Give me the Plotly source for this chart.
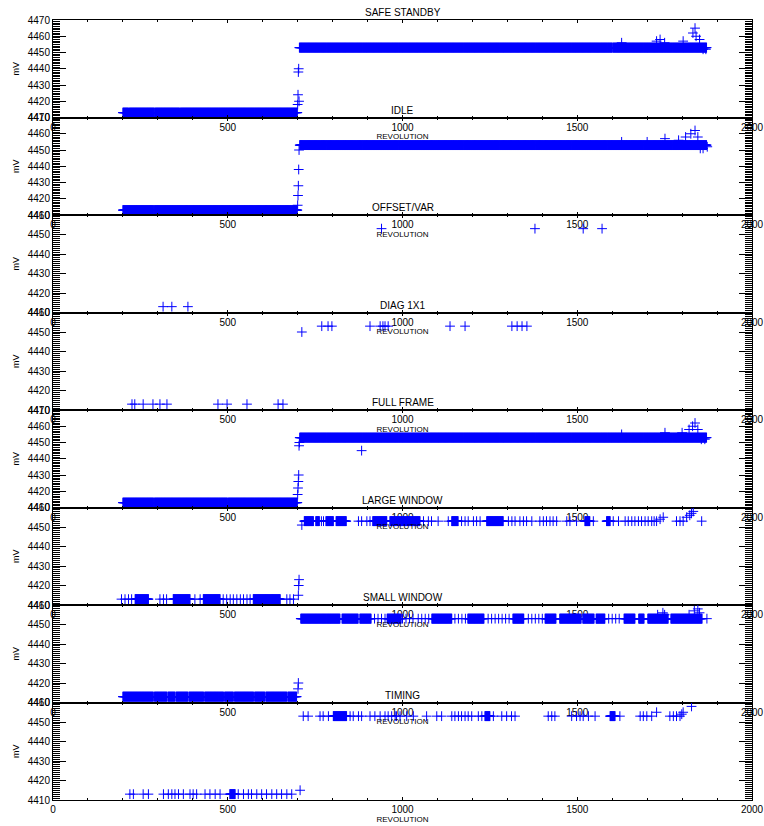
import plotly.graph_objects as go

# ---------------- data ----------------
titles = ["SAFE STANDBY", "IDLE", "OFFSET/VAR", "DIAG 1X1",
          "FULL FRAME", "LARGE WINDOW", "SMALL WINDOW", "TIMING"]
y_top = [4470, 4470, 4460, 4460, 4470, 4460, 4460, 4460]
y_bottom = 4410
x_ticks = [0, 500, 1000, 1500, 2000]

# runs: [first revolution, last revolution, mV] -- one sample per revolution
safe_runs = [[200, 216, 4413], [218, 290, 4413], [292, 362, 4413], [364, 699, 4413],
             [706, 1600, 4453], [1602, 1870, 4453]]
safe_x = [700, 701, 702, 703, 704, 705, 1627, 1727, 1737, 1750, 1803, 1831, 1837, 1840, 1850, 1860, 1868]
safe_y = [4418, 4424, 4438, 4440, 4420, 4453, 4456, 4457, 4458, 4456, 4457, 4462, 4465, 4460, 4458, 4452, 4452]

idle_runs = [[200, 288, 4413], [290, 699, 4413], [706, 1870, 4453]]
idle_x = [700, 701, 702, 703, 704, 1627, 1700, 1751, 1790, 1810, 1825, 1837, 1845, 1852, 1860, 1872]
idle_y = [4416, 4422, 4428, 4438, 4450, 4455, 4455, 4457, 4456, 4458, 4460, 4462, 4458, 4451, 4451, 4452]

offset_runs = []
offset_x = [315, 340, 386, 940, 1379, 1517, 1571]
offset_y = [4413, 4413, 4413, 4453, 4453, 4453, 4453]

diag_runs = []
diag_x = [226, 234, 258, 286, 306, 326, 472, 498, 555, 644, 658,
          712, 769, 787, 798, 907, 936, 944, 950, 959, 1136, 1179, 1313, 1328, 1342, 1356]
diag_y = [4413] * 11 + [4450] + [4453] * 14

full_runs = [[200, 288, 4413], [290, 499, 4413], [501, 699, 4413], [706, 1870, 4453]]
full_x = [700, 701, 702, 703, 704, 705, 883, 1627, 1751, 1800, 1820, 1830, 1837, 1845, 1855, 1865]
full_y = [4418, 4422, 4426, 4430, 4448, 4450, 4445, 4455, 4456, 4456, 4458, 4460, 4462, 4458, 4452, 4452]

large_runs = [[235, 273, 4413], [344, 392, 4413], [430, 478, 4413], [573, 650, 4413],
              [719, 745, 4453], [752, 762, 4453], [781, 802, 4453], [810, 839, 4453],
              [915, 955, 4453], [964, 1050, 4453], [1141, 1159, 4453], [1241, 1288, 4453],
              [1522, 1536, 4453], [1584, 1594, 4453]]
large_x = [196, 206, 216, 225, 306, 316, 325, 406, 421, 487, 497, 507, 516, 526, 536, 545, 555, 564,
           669, 678, 688, 702, 703, 704,
           712, 768, 774, 874, 883, 898, 907, 969, 1060, 1074, 1083, 1102, 1131, 1169, 1179, 1188,
           1203, 1212, 1222, 1303, 1313, 1322, 1336, 1346, 1355, 1370, 1393, 1403, 1412, 1422,
           1431, 1441, 1470, 1479, 1498, 1546, 1603, 1618, 1637, 1646, 1656, 1665, 1675, 1684,
           1694, 1703, 1713, 1720, 1727, 1784, 1794,
           1737, 1746, 1803, 1813, 1822, 1827, 1832, 1856]
large_y = [4413] * 21 + [4415, 4420, 4423] + [4451] + [4453] * 50 + \
          [4454, 4455, 4453, 4455, 4456, 4457, 4458, 4453]

small_runs = [[200, 287, 4413], [290, 326, 4413], [329, 349, 4413], [352, 386, 4413],
              [389, 431, 4413], [434, 488, 4413], [491, 516, 4413], [519, 574, 4413],
              [577, 606, 4413], [609, 669, 4413], [672, 697, 4413],
              [709, 821, 4453], [827, 873, 4453], [878, 910, 4453], [956, 996, 4453],
              [1084, 1141, 4453], [1187, 1233, 4453], [1316, 1347, 4453], [1408, 1439, 4453],
              [1450, 1511, 4453], [1516, 1548, 4453], [1554, 1579, 4453], [1634, 1665, 4453],
              [1676, 1691, 4453], [1702, 1760, 4453], [1768, 1857, 4453]]
small_x = [701, 702, 920, 930, 940, 950, 1000, 1010, 1020, 1030, 1045, 1055, 1065, 1075,
           1150, 1160, 1170, 1180, 1245, 1255, 1265, 1275, 1285, 1295, 1305,
           1360, 1370, 1380, 1390, 1400, 1590, 1600, 1610, 1620,
           1730, 1745, 1750, 1820, 1835, 1845, 1850, 1871]
small_y = [4417, 4420] + [4453] * 32 + [4455, 4456, 4455, 4455, 4457, 4458, 4456, 4453]

timing_runs = [[506, 521, 4413], [802, 840, 4453], [1236, 1250, 4453], [1594, 1608, 4453]]
timing_x = [220, 230, 258, 273, 316, 330, 340, 349, 359, 373, 392, 401, 411, 435, 449, 464, 478,
            530, 545, 559, 568, 583, 597, 611, 626, 640, 654, 669, 683, 707,
            716, 730, 764, 773, 788, 850, 859, 874, 883, 907, 921, 936, 950, 959, 969, 979, 983,
            993, 1012, 1031, 1069, 1098, 1112, 1141, 1150, 1160, 1169, 1179, 1188, 1198, 1217,
            1227, 1260, 1284, 1298, 1312, 1322, 1417, 1427, 1436, 1484, 1498, 1508, 1517, 1532,
            1551, 1622, 1680, 1689, 1699, 1713, 1727, 1765, 1775, 1784, 1794, 1799, 1803, 1827]
timing_y = [4413] * 29 + [4415] + [4453] * 51 + [4455, 4453, 4453, 4453, 4453, 4454, 4455, 4458]

panels = [(safe_runs, safe_x, safe_y), (idle_runs, idle_x, idle_y),
          (offset_runs, offset_x, offset_y), (diag_runs, diag_x, diag_y),
          (full_runs, full_x, full_y), (large_runs, large_x, large_y),
          (small_runs, small_x, small_y), (timing_runs, timing_x, timing_y)]


def expand(runs, px, py):
    xs, ys = [], []
    for a, b, v in runs:
        for r in range(a, b + 1):
            xs.append(r)
            ys.append(v)
    return xs + list(px), ys + list(py)


# ---------------- figure ----------------
BLUE = "#0000ff"
FONT = "Liberation Sans"
n = len(titles)
fig = go.Figure()
layout = {}
annotations = []

for i in range(n):
    sfx = "" if i == 0 else str(i + 1)
    xs, ys = expand(*panels[i])
    fig.add_trace(go.Scatter(
        x=xs, y=ys, mode="markers", xaxis="x" + sfx, yaxis="y" + sfx,
        marker=dict(symbol="cross-thin", size=7, color=BLUE,
                    line=dict(width=1, color=BLUE)),
        showlegend=False, hoverinfo="skip"))
    top = 1 - i / n
    bot = 1 - (i + 1) / n
    layout["xaxis" + sfx] = dict(
        domain=[0, 1], anchor="y" + sfx, range=[0, 2000],
        tickmode="array", tickvals=x_ticks, ticktext=[str(v) for v in x_ticks],
        ticks="inside", ticklen=3, tickcolor="black", tickwidth=1,
        minor=dict(tickmode="linear", tick0=0, dtick=100, ticks="inside", ticklen=2, tickcolor="black"),
        showline=True, linecolor="black", linewidth=1, mirror="ticks",
        showgrid=False, zeroline=False,
        tickfont=dict(family=FONT, size=10, color="black"),
        title=dict(text="REVOLUTION", font=dict(family=FONT, size=8, color="black"), standoff=0))
    layout["yaxis" + sfx] = dict(
        domain=[bot, top], anchor="x" + sfx, range=[y_bottom, y_top[i]],
        tickmode="linear", tick0=y_bottom, dtick=10,
        ticks="inside", ticklen=13, tickcolor="black", tickwidth=1,
        minor=dict(tickmode="linear", tick0=y_bottom, dtick=1, ticks="inside", ticklen=7, tickcolor="black"),
        showline=True, linecolor="black", linewidth=1, mirror="ticks",
        showgrid=False, zeroline=False,
        tickfont=dict(family=FONT, size=10, color="black"),
        title=dict(text="mV", font=dict(family=FONT, size=9, color="black"), standoff=6))
    annotations.append(dict(
        text=titles[i], xref="paper", yref="paper", x=0.5, y=top,
        xanchor="center", yanchor="bottom", showarrow=False, yshift=0,
        font=dict(family=FONT, size=10, color="black")))

fig.update_layout(
    width=764, height=826,
    margin=dict(l=53, r=12, t=20, b=26, autoexpand=False),
    paper_bgcolor="white", plot_bgcolor="white",
    annotations=annotations, **layout)

fig.write_html("out.html")
